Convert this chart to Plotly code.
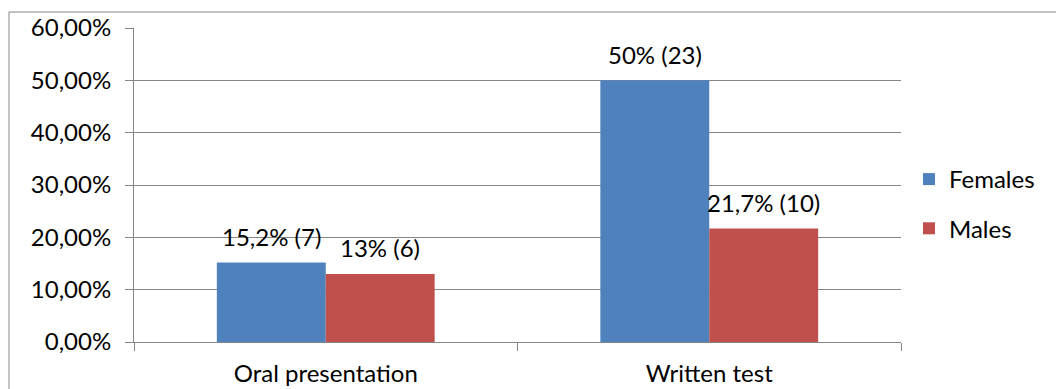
import plotly.graph_objects as go

# Share of respondents per assessment type, with counts
categories = ["Oral presentation", "Written test"]
females = [0.152, 0.50]
males = [0.13, 0.217]
females_labels = ["15,2% (7)", "50% (23)"]
males_labels = ["13% (6)", "21,7% (10)"]
y_ticks = [0, 0.1, 0.2, 0.3, 0.4, 0.5, 0.6]
y_tick_text = ["0,00%", "10,00%", "20,00%", "30,00%", "40,00%", "50,00%", "60,00%"]

W, H = 1056, 389
L, R, T, B = 134, 155, 28, 47
plot_w = W - L - R
plot_h = H - T - B

FONT = "Lato"
FS = 24
GRID = "#868686"
BLUE = "#4F81BD"
RED = "#C0504D"
BARGAP = 0.432

fig = go.Figure()
fig.add_trace(go.Bar(name="Females", x=categories, y=females, marker=dict(color=BLUE, line=dict(width=0)),
                     legendgroup="f"))
fig.add_trace(go.Bar(name="Males", x=categories, y=males, marker=dict(color=RED, line=dict(width=0)),
                     legendgroup="m"))

# value labels above each bar
cat_px = plot_w / len(categories)
bar_px = cat_px * (1 - BARGAP) / 2
for i, c in enumerate(categories):
    for val, txt, sign in ((females[i], females_labels[i], -1), (males[i], males_labels[i], 1)):
        fig.add_annotation(x=c, y=val, text=txt, showarrow=False, xanchor="center", yanchor="middle",
                           xshift=sign * bar_px / 2, yshift=26,
                           font=dict(family=FONT, size=FS, color="#000000"))

# outer chart frame
fig.add_shape(type="rect", xref="paper", yref="paper",
              x0=(9 - L) / plot_w, x1=(W + 5 - L) / plot_w,
              y0=-(H + 5 - (H - B)) / plot_h, y1=1 + (T - 12) / plot_h,
              line=dict(color=GRID, width=1), fillcolor="rgba(0,0,0,0)", layer="below")

fig.update_layout(
    width=W, height=H,
    margin=dict(l=L, r=R, t=T, b=B, pad=0, autoexpand=False),
    paper_bgcolor="white", plot_bgcolor="white",
    barmode="group", bargap=BARGAP, bargroupgap=0,
    font=dict(family=FONT, size=FS, color="#000000"),
    showlegend=True,
    legend=dict(x=(909 - L) / plot_w, y=(H - B - 204) / plot_h, xanchor="left", yanchor="middle",
                traceorder="grouped", tracegroupgap=15, font=dict(family=FONT, size=FS),
                bgcolor="rgba(0,0,0,0)"),
    xaxis=dict(type="category", showline=True, linecolor=GRID, linewidth=1, automargin=False,
               ticks="outside", tickson="boundaries", ticklen=8, tickcolor=GRID, tickwidth=1,
               showgrid=False, ticklabelstandoff=10,
               tickfont=dict(family=FONT, size=FS)),
    yaxis=dict(range=[0, 0.6], tickvals=y_ticks, ticktext=y_tick_text, automargin=False,
               showline=True, linecolor=GRID, linewidth=1,
               ticks="outside", ticklen=8, tickcolor=GRID, tickwidth=1,
               showgrid=True, gridcolor=GRID, gridwidth=1, zeroline=False,
               ticklabelstandoff=9, tickfont=dict(family=FONT, size=FS)),
)

fig.write_html("out.html")
